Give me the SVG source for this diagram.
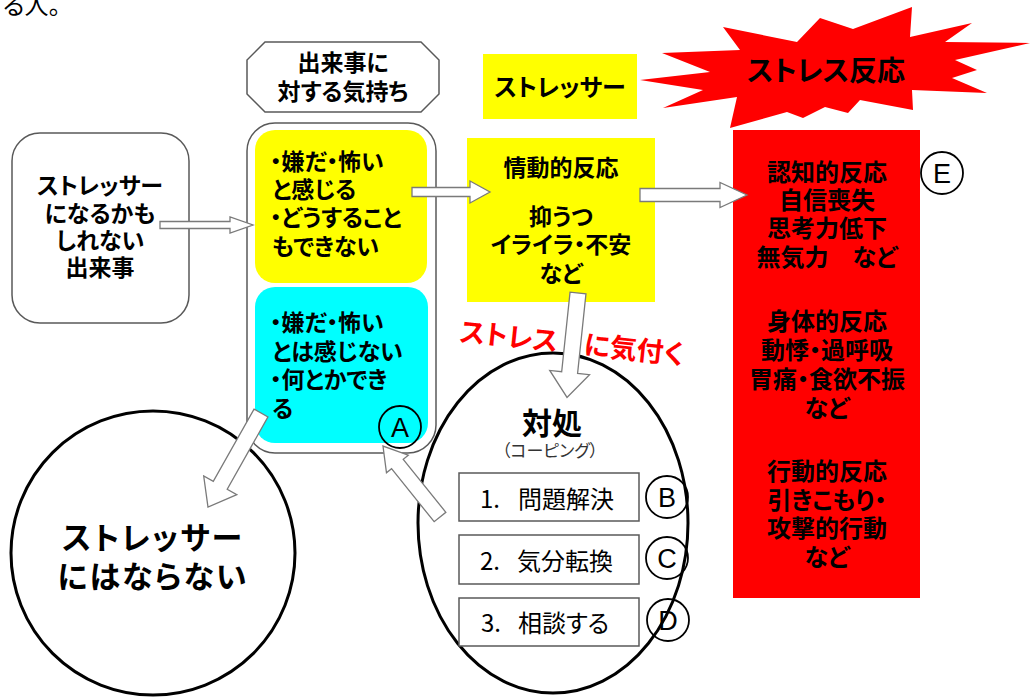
<svg xmlns="http://www.w3.org/2000/svg" width="1030" height="700" viewBox="0 0 1030 700">
<defs>
<style>
.t{font-family:"Noto Sans CJK JP","Noto Sans",sans-serif;font-feature-settings:"palt";fill:#000}
.b{font-weight:700}
.m{text-anchor:middle}
.lbl{font-family:"Liberation Sans",Arial,sans-serif;font-size:27px;text-anchor:middle;fill:#000}
.ring{fill:none;stroke:#000;stroke-width:1.8}
.arr{fill:#fff;stroke:#7a7a7a;stroke-width:1.3}
.frame{fill:#fff;stroke:#595959;stroke-width:1.5}
.big{fill:#fff;stroke:#000;stroke-width:3}
.yel{fill:#ffff00}
.red{fill:#ff0000}
</style>
</defs>
<rect width="1030" height="700" fill="#fff"/>
<text class="t" x="3" y="14" font-size="24">る人。</text>

<g id="event">
<rect class="frame" x="12" y="133" width="177" height="190" rx="28"/>
<g class="t b m" font-size="23">
<text x="100" y="194">ストレッサー</text>
<text x="100" y="222">になるかも</text>
<text x="100" y="249">しれない</text>
<text x="100" y="276">出来事</text>
</g>
</g>

<g id="feeling-title">
<polygon class="frame" points="265,42 421,42 439,60 439,94 421,112 265,112 247,94 247,60"/>
<g class="t b m" font-size="23">
<text x="343" y="71">出来事に</text>
<text x="343" y="100">対する気持ち</text>
</g>
</g>

<g id="feelings">
<rect class="frame" x="247" y="123" width="189" height="330" rx="28"/>
<rect class="yel" x="255" y="130" width="172" height="153" rx="20"/>
<rect fill="#00ffff" x="255" y="287" width="173" height="156" rx="20"/>
<g class="t b" font-size="23">
<text x="270" y="170">・嫌だ・怖い</text>
<text x="272" y="198">と感じる</text>
<text x="270" y="226">・どうすること</text>
<text x="272" y="255">もできない</text>
<text x="270" y="331">・嫌だ・怖い</text>
<text x="272" y="360">とは感じない</text>
<text x="270" y="388">・何とかでき</text>
<text x="272" y="417">る</text>
</g>
</g>

<g id="label-a">
<circle class="ring" cx="400" cy="427" r="21"/>
<text class="lbl" x="400" y="437">A</text>
</g>

<g id="stressor-label">
<rect class="yel" x="483" y="54" width="154" height="65"/>
<text class="t b m" x="560" y="96" font-size="24">ストレッサー</text>
</g>

<g id="stress-reaction">
<polygon class="red" points="640,80 710,72 662,53 740,50 723,27 797,42 820,18 853,29 912,7 910,37 972,23 945,42 1030,43 955,60 977,70 952,78 987,93 912,90 913,110 860,100 848,113 825,107 803,118 787,112 730,128 737,97 663,108 703,90"/>
<text class="t b m" x="826" y="81" font-size="28">ストレス反応</text>
</g>

<g id="emotional">
<rect class="yel" x="467" y="138" width="188" height="164"/>
<g class="t b m" font-size="23">
<text x="561" y="176">情動的反応</text>
<text x="561" y="225">抑うつ</text>
<text x="561" y="253">イライラ・不安</text>
<text x="561" y="282">など</text>
</g>
</g>

<g id="reactions">
<rect class="red" x="733" y="130" width="187" height="468"/>
<g class="t b m" font-size="24">
<text x="827" y="181">認知的反応</text>
<text x="827" y="209">自信喪失</text>
<text x="827" y="237">思考力低下</text>
<text x="827" y="266">無気力　など</text>
<text x="827" y="330">身体的反応</text>
<text x="827" y="359">動悸・過呼吸</text>
<text x="827" y="388">胃痛・食欲不振</text>
<text x="827" y="417">など</text>
<text x="827" y="480">行動的反応</text>
<text x="827" y="509">引きこもり・</text>
<text x="827" y="537">攻撃的行動</text>
<text x="827" y="566">など</text>
</g>
</g>

<g id="label-e">
<circle class="ring" cx="942" cy="173" r="21"/>
<text class="lbl" x="942" y="183">E</text>
</g>

<g id="notice">
<text class="t b" x="459" y="341" font-size="27" fill="#ff0000" style="fill:#ff0000" transform="rotate(6 459 341)">ストレス</text>
<text class="t b" x="583" y="354" font-size="27" style="fill:#ff0000" transform="rotate(6 583 354)">に気付く</text>
</g>

<g id="coping">
<ellipse class="big" cx="553" cy="523" rx="135" ry="170"/>
<text class="t b m" x="552" y="434" font-size="30">対処</text>
<text class="t m" x="550" y="457" font-size="17" style="fill:#333">（コーピング）</text>
<rect class="frame" x="459" y="473" width="180" height="48"/>
<rect class="frame" x="459" y="535" width="180" height="49"/>
<rect class="frame" x="459" y="598" width="180" height="48"/>
<g class="t" font-size="24">
<text y="508"><tspan x="480">1.</tspan><tspan x="518">問題解決</tspan></text>
<text y="570"><tspan x="480">2.</tspan><tspan x="517">気分転換</tspan></text>
<text y="632"><tspan x="481">3.</tspan><tspan x="518">相談する</tspan></text>
</g>
</g>

<g id="label-b">
<circle class="ring" cx="667" cy="497" r="21"/>
<text class="lbl" x="667" y="507">B</text>
</g>
<g id="label-c">
<circle class="ring" cx="667" cy="558" r="21"/>
<text class="lbl" x="667" y="568">C</text>
</g>
<g id="label-d">
<circle class="ring" cx="668" cy="620" r="21"/>
<text class="lbl" x="668" y="630">D</text>
</g>

<g id="not-stressor">
<circle class="big" cx="153" cy="553" r="142"/>
<g class="t b m" font-size="31" letter-spacing="2">
<text x="153" y="549">ストレッサー</text>
<text x="153" y="588">にはならない</text>
</g>
</g>

<g id="connectors">
<path class="arr" d="M0,-3.5H70V-8L93,0L70,8V3.5H0Z" transform="translate(160,225)"/>
<path class="arr" d="M0,-4.5H58V-11L78,0L58,11V4.5H0Z" transform="translate(412,192)"/>
<path class="arr" d="M0,-6.5H80V-12.5L107,0L80,12.5V6.5H0Z" transform="translate(640,195)"/>
<path class="arr" d="M0,-8H80V-20L105,0L80,20V8H0Z" transform="translate(578,293) rotate(96)"/>
<path class="arr" d="M0,-8H83V-19L108,0L83,19V8H0Z" transform="translate(261,413) rotate(119.4)"/>
<path class="arr" d="M0,-7.5H68V-14L91,0L68,14V7.5H0Z" transform="translate(440,517) rotate(-128.8)"/>
</g>
</svg>
